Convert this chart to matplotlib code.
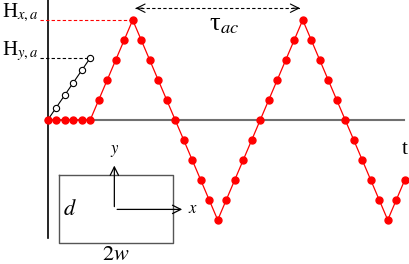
import matplotlib
matplotlib.use("Agg")
import matplotlib.pyplot as plt

plt.rcParams['font.family'] = ['Liberation Serif', 'DejaVu Serif']
plt.rcParams['mathtext.fontset'] = 'stix'

# time steps and field values (in units of one step)
t_x = list(range(43))
h_x = [0, 0, 0, 0, 0, 0, 1, 2, 3, 4, 5, 4, 3, 2, 1, 0, -1, -2, -3, -4, -5,
       -4, -3, -2, -1, 0, 1, 2, 3, 4, 5, 4, 3, 2, 1, 0, -1, -2, -3, -4, -5, -4, -3]
t_y = [0, 1, 2, 3, 4, 5]
h_y = [0, 0.62, 1.24, 1.86, 2.48, 3.1]
hx_amp = 5
hy_amp = 3.1
tau_start = 10
tau_end = 30

fig = plt.figure(figsize=(4.09, 2.64), dpi=100)
ax = fig.add_axes([0, 0, 1, 1])
ax.set_xlim(-5.61, 42.5)
ax.set_ylim(-7.2, 6.0)
ax.axis('off')

# axes
ax.plot([0, 0], [-5.9, 6.0], color='black', lw=1.2)
ax.plot([0, 41.9], [0, 0], color='#707070', lw=1.5, zorder=1)

# dashed amplitude markers
ax.plot([-0.9, tau_start], [hx_amp, hx_amp], color='red', lw=0.8, ls=(0, (3, 2)))
ax.plot([-0.9, t_y[-1]], [hy_amp, hy_amp], color='black', lw=0.8, ls=(0, (3, 2)))
ax.text(-5.38, 5.15, r'H$_{x,a}$', fontsize=15, ha='left', va='baseline')
ax.text(-5.38, 3.25, r'H$_{y,a}$', fontsize=15, ha='left', va='baseline')

# curves
ax.plot(t_y, h_y, color='black', lw=0.8, marker='o', ms=4.5,
        mfc='white', mec='black', mew=0.8, zorder=3)
ax.plot(t_x, h_x, color='red', lw=0.9, marker='o', ms=5, mfc='red', mec='red', zorder=4)

# period arrow
y_arr = 5.59
ax.plot([tau_start + 0.3, tau_end - 0.3], [y_arr, y_arr], color='black', lw=0.8, ls=(0, (3, 2)))
ax.annotate('', xy=(tau_start, y_arr), xytext=(tau_start + 1.5, y_arr),
            arrowprops=dict(arrowstyle='->', color='black', lw=0.8, mutation_scale=15))
ax.annotate('', xy=(tau_end, y_arr), xytext=(tau_end - 1.5, y_arr),
            arrowprops=dict(arrowstyle='->', color='black', lw=0.8, mutation_scale=15))
ax.text(19.0, 4.75, u'\u03c4$_{ac}$', fontsize=19, ha='left', va='center')

ax.text(42.0, -1.5, 't', fontsize=15, ha='center', va='center')

# inset: cross-section
ax.plot([1.36, 14.7, 14.7, 1.36, 1.36], [-2.75, -2.75, -6.17, -6.17, -2.75],
        color='#555555', lw=1.0)
ox, oy = 7.84, -4.47
ax.annotate('', xy=(ox, -2.14), xytext=(ox, oy),
            arrowprops=dict(arrowstyle='->', color='black', lw=0.9, mutation_scale=15))
ax.annotate('', xy=(16.15, oy), xytext=(ox, oy),
            arrowprops=dict(arrowstyle='->', color='black', lw=0.9, mutation_scale=15))
ax.text(7.9, -1.55, r'$y$', fontsize=12, ha='center', va='center')
ax.text(17.1, -4.45, r'$x$', fontsize=12, ha='center', va='center')
ax.text(2.6, -4.5, r'$d$', fontsize=16, ha='center', va='center')
ax.text(8.0, -6.8, r'$2w$', fontsize=16, ha='center', va='center')

fig.savefig('out.png', dpi=100)
